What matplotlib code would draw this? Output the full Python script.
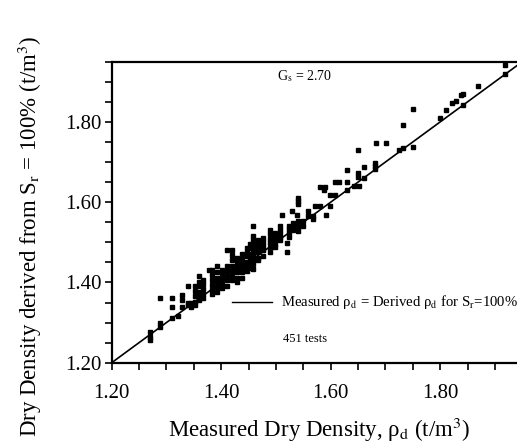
import matplotlib
matplotlib.use("Agg")
import matplotlib.pyplot as plt

# ---- data ----
measured = [
    1.918, 1.918, 1.869, 1.841, 1.838, 1.841, 1.829, 1.821, 1.811, 1.800,
    1.751, 1.733, 1.751, 1.733, 1.724, 1.701, 1.683, 1.649, 1.681, 1.681,
    1.681, 1.660, 1.649, 1.649, 1.660, 1.630, 1.651, 1.642, 1.629, 1.608,
    1.616, 1.629, 1.581, 1.590, 1.587, 1.599, 1.608, 1.599, 1.592, 1.581,
    1.572, 1.568, 1.568, 1.559, 1.559, 1.550, 1.550, 1.541, 1.541, 1.541,
    1.529, 1.538, 1.511, 1.520, 1.520,
    1.541, 1.541, 1.541, 1.541,
    1.532, 1.532, 1.532,
    1.523, 1.523, 1.523, 1.523,
    1.508, 1.508, 1.508, 1.508, 1.508,
    1.498, 1.498, 1.498, 1.498, 1.498,
    1.489, 1.489, 1.489, 1.489, 1.489, 1.489,
    1.477, 1.477, 1.477, 1.477, 1.477,
    1.468, 1.468, 1.468, 1.468, 1.468, 1.468,
    1.459, 1.459, 1.459, 1.459, 1.459, 1.459, 1.459, 1.459, 1.459, 1.459,
    1.453, 1.453, 1.453, 1.453, 1.453, 1.453,
    1.447, 1.447, 1.447, 1.447, 1.447, 1.447,
    1.438, 1.438, 1.438, 1.438, 1.438, 1.438,
    1.428, 1.428, 1.428, 1.428, 1.428, 1.428,
    1.419, 1.419, 1.419, 1.419, 1.419, 1.419, 1.419,
    1.410, 1.410, 1.410, 1.410, 1.410, 1.410,
    1.401, 1.401, 1.401, 1.401, 1.401,
    1.392, 1.392, 1.392, 1.392, 1.392, 1.392,
    1.383, 1.383, 1.383, 1.383, 1.383, 1.383,
    1.378,
    1.367, 1.367, 1.367, 1.367, 1.367,
    1.360, 1.360, 1.360, 1.360, 1.360, 1.360,
    1.352, 1.352, 1.352, 1.352, 1.352,
    1.340, 1.340, 1.340,
    1.345, 1.345,
    1.328, 1.328, 1.328,
    1.311, 1.311, 1.311,
    1.289, 1.289, 1.289,
    1.322,
    1.270, 1.270, 1.270,
]
derived = [
    1.942, 1.919, 1.890, 1.869, 1.866, 1.842, 1.852, 1.847, 1.830, 1.809,
    1.831, 1.792, 1.738, 1.736, 1.730, 1.748, 1.748, 1.731, 1.698, 1.690,
    1.683, 1.688, 1.672, 1.663, 1.661, 1.679, 1.640, 1.640, 1.630, 1.650,
    1.650, 1.650, 1.638, 1.638, 1.630, 1.619, 1.617, 1.590, 1.567, 1.590,
    1.590, 1.565, 1.557, 1.577, 1.565, 1.552, 1.540, 1.611, 1.602, 1.596,
    1.577, 1.569, 1.569, 1.498, 1.477,
    1.552, 1.545, 1.537, 1.528,
    1.548, 1.540, 1.530,
    1.540, 1.532, 1.522, 1.514,
    1.540, 1.530, 1.520, 1.512, 1.505,
    1.522, 1.513, 1.505, 1.497, 1.488,
    1.531, 1.520, 1.508, 1.498, 1.486, 1.475,
    1.510, 1.500, 1.490, 1.480, 1.467,
    1.505, 1.495, 1.485, 1.475, 1.462, 1.455,
    1.540, 1.515, 1.505, 1.495, 1.485, 1.475, 1.465, 1.455, 1.445, 1.434,
    1.495, 1.485, 1.472, 1.460, 1.448, 1.436,
    1.487, 1.475, 1.465, 1.452, 1.440, 1.428,
    1.470, 1.458, 1.447, 1.436, 1.425, 1.412,
    1.460, 1.448, 1.437, 1.425, 1.412, 1.402,
    1.480, 1.468, 1.455, 1.442, 1.430, 1.418, 1.405,
    1.482, 1.440, 1.428, 1.417, 1.405, 1.392,
    1.432, 1.420, 1.408, 1.397, 1.387,
    1.440, 1.425, 1.412, 1.400, 1.388, 1.375,
    1.432, 1.418, 1.405, 1.393, 1.380, 1.370,
    1.432,
    1.407, 1.395, 1.383, 1.370, 1.362,
    1.415, 1.402, 1.390, 1.377, 1.366, 1.355,
    1.390, 1.378, 1.366, 1.352, 1.345,
    1.390, 1.350, 1.345,
    1.350, 1.340,
    1.369, 1.357, 1.340,
    1.361, 1.340, 1.311,
    1.361, 1.300, 1.288,
    1.317,
    1.277, 1.257, 1.265,
]
line_x = [1.20, 1.95]
line_y = [1.20, 1.95]
tick_values = [1.20, 1.40, 1.60, 1.80]

plt.rcParams['font.family'] = ['Liberation Serif', 'DejaVu Serif']
plt.rcParams['mathtext.fontset'] = 'stix'

W, H = 517, 443
fig = plt.figure(figsize=(W / 100, H / 100), dpi=100)
ax = fig.add_axes([111.7 / W, 80.3 / H, 410.6 / W, 301 / H])

ax.plot(line_x, line_y, color='black', lw=1.2, zorder=2)
ax.plot(measured, derived, ls='none', marker='s', ms=3.1, color='black',
        mec='black', zorder=3)

ax.set_xlim(1.20, 1.95)
ax.set_ylim(1.20, 1.95)

major = [1.20 + 0.05 * i for i in range(16)]
labels = [("%.2f" % v if any(abs(v - t) < 1e-6 for t in tick_values) else "") for v in major]
ax.set_xticks(major)
ax.set_yticks(major)
ax.set_xticklabels(labels)
ax.set_yticklabels(labels)
ax.tick_params(direction='out', length=5, width=1.2, labelsize=15)
ax.tick_params(axis='x', pad=10)
ax.tick_params(axis='y', pad=2)

for s in ['left', 'bottom', 'top']:
    ax.spines[s].set_linewidth(1.6)
ax.spines['right'].set_visible(False)

ax.set_xlabel(r"Measured Dry Density, ρ$_\mathrm{d}$ (t/m$^3$)", fontsize=16.5)
ax.set_ylabel(r"Dry Density derived from S$_\mathrm{r}$ = 100% (t/m$^3$)", fontsize=16.5)
ax.xaxis.set_label_coords(0.505, -0.175)
ax.yaxis.set_label_coords(-0.165, 0.42)

ax.text(0.403, 0.952, r"G$_\mathrm{s}$ = 2.70", transform=ax.transAxes, fontsize=10,
        va='center', ha='left')
ax.plot([0.293, 0.390], [0.2017, 0.2017], transform=ax.transAxes, color='black', lw=1.0)
ax.text(0.412, 0.2017, r"Measured ρ$_\mathrm{d}$ = Derived ρ$_\mathrm{d}$ for S$_\mathrm{r}$=100%",
        transform=ax.transAxes, fontsize=10.6, va='center', ha='left')
ax.text(0.417, 0.079, "451 tests", transform=ax.transAxes, fontsize=9,
        va='center', ha='left')

fig.savefig("out.png", dpi=100)
